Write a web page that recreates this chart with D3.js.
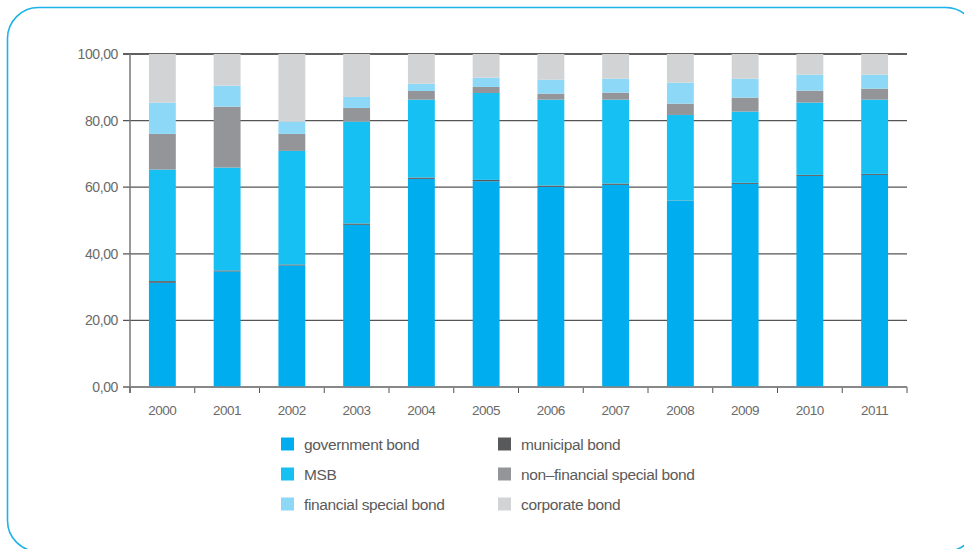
<!DOCTYPE html>
<html><head><meta charset="utf-8">
<script src="https://cdn.jsdelivr.net/npm/d3@7"></script>
<style>body{margin:0;background:#fff;} svg{display:block;font-family:"Liberation Sans",Arial,sans-serif;}</style>
</head><body>
<svg id="c" width="964" height="549"></svg>
<script>
const years = ["2000","2001","2002","2003","2004","2005","2006","2007","2008","2009","2010","2011"];
const seriesNames = ["government bond","municipal bond","MSB","non-financial special bond","financial special bond","corporate bond"];
const government = [31.3,34.7,36.5,48.7,62.5,61.8,60.1,60.7,55.9,61.0,63.4,63.7];
const municipal  = [0.5,0.3,0.3,0.4,0.4,0.4,0.4,0.4,0.1,0.3,0.3,0.3];
const msb        = [33.5,30.9,34.1,30.6,23.4,26.1,25.8,25.2,25.7,21.4,21.7,22.3];
const nonFinancial = [10.7,18.3,5.1,4.1,2.6,1.8,1.8,2.1,3.4,4.2,3.6,3.3];
const financial  = [9.4,6.3,3.7,3.3,2.2,2.8,4.2,4.2,6.3,5.7,4.8,4.2];
const corporate  = [14.6,9.5,20.3,12.9,8.9,7.1,7.7,7.4,8.6,7.4,6.2,6.2];
const yTicks = [0,20,40,60,80,100];
const colors = {"government bond":"#00ADEE","municipal bond":"#58595B","MSB":"#16C0F2","non-financial special bond":"#939598","financial special bond":"#8ED8F7","corporate bond":"#D1D3D4"};
const legendOrder = [["government bond","municipal bond"],["MSB","non-financial special bond"],["financial special bond","corporate bond"]];

const seriesValues = {"government bond":government,"municipal bond":municipal,"MSB":msb,"non-financial special bond":nonFinancial,"financial special bond":financial,"corporate bond":corporate};
const table = years.map((yr,i)=>{const o={year:yr}; seriesNames.forEach(s=>o[s]=seriesValues[s][i]); return o;});
const stack = d3.stack().keys(seriesNames)(table);

const svg = d3.select("#c");
svg.append("rect").attr("x",7.5).attr("y",7.5).attr("width",969).attr("height",544).attr("rx",31).attr("ry",31)
  .attr("fill","none").attr("stroke","#1DB3EA").attr("stroke-width",1.6);

const pL=130, pR=907, pT=54, pB=387;
const x = d3.scaleBand().domain(years).range([pL,pR]).paddingInner(0.585).paddingOuter(0.2925);
const xb = d3.scaleBand().domain(years).range([pL,pR]);
const y = d3.scaleLinear().domain([0,100]).range([pB,pT]);

svg.append("g").selectAll("line").data(yTicks).join("line")
  .attr("x1",pL-7).attr("x2",pR).attr("y1",d=>y(d)).attr("y2",d=>y(d))
  .attr("stroke",d=>d===100?"#2b2b2b":(d===0?"#888":"#555")).attr("stroke-width",d=>d===0?2:1.3);

svg.append("g").selectAll("g").data(stack).join("g").attr("fill",d=>colors[d.key])
  .selectAll("rect").data(d=>d).join("rect")
  .attr("x",d=>x(d.data.year)).attr("width",x.bandwidth())
  .attr("y",d=>y(d[1])).attr("height",d=>Math.max(0,y(d[0])-y(d[1])));

svg.append("line").attr("x1",pL).attr("x2",pL).attr("y1",pT).attr("y2",pB+6).attr("stroke","#777").attr("stroke-width",1.5);
svg.append("g").selectAll("line").data(years.concat(["end"])).join("line")
  .attr("x1",(d,i)=>i<years.length?xb(d):pR).attr("x2",(d,i)=>i<years.length?xb(d):pR)
  .attr("y1",pB).attr("y2",pB+6).attr("stroke","#555").attr("stroke-width",1);
svg.append("line").attr("x1",pL).attr("x2",pR).attr("y1",pB).attr("y2",pB).attr("stroke","#888").attr("stroke-width",1.5);

const fmt = d=>d3.format(".2f")(d).replace(".",",");
svg.append("g").selectAll("text").data(yTicks).join("text")
  .attr("x",118).attr("y",d=>y(d)+5).attr("text-anchor","end")
  .attr("font-size",14).attr("fill","#6a6a6a").attr("letter-spacing",-0.4).text(fmt);
svg.append("g").selectAll("text").data(years).join("text")
  .attr("x",d=>x(d)+x.bandwidth()/2).attr("y",415).attr("text-anchor","middle")
  .attr("font-size",13.5).attr("fill","#6a6a6a").attr("letter-spacing",-0.5).text(d=>d);

const colX=[281,498], rowY=[444,474,504];
legendOrder.forEach((row,ri)=>row.forEach((name,ci)=>{
  const g=svg.append("g");
  g.append("rect").attr("x",colX[ci]).attr("y",rowY[ri]-6.5).attr("width",13).attr("height",13).attr("fill",colors[name]);
  g.append("text").attr("x",colX[ci]+23).attr("y",rowY[ri]+5.5).attr("font-size",15.5).attr("fill","#5a5a5a")
   .attr("letter-spacing",-0.35).text(name.replace("non-","non\u2013"));
}));
</script>
</body></html>
